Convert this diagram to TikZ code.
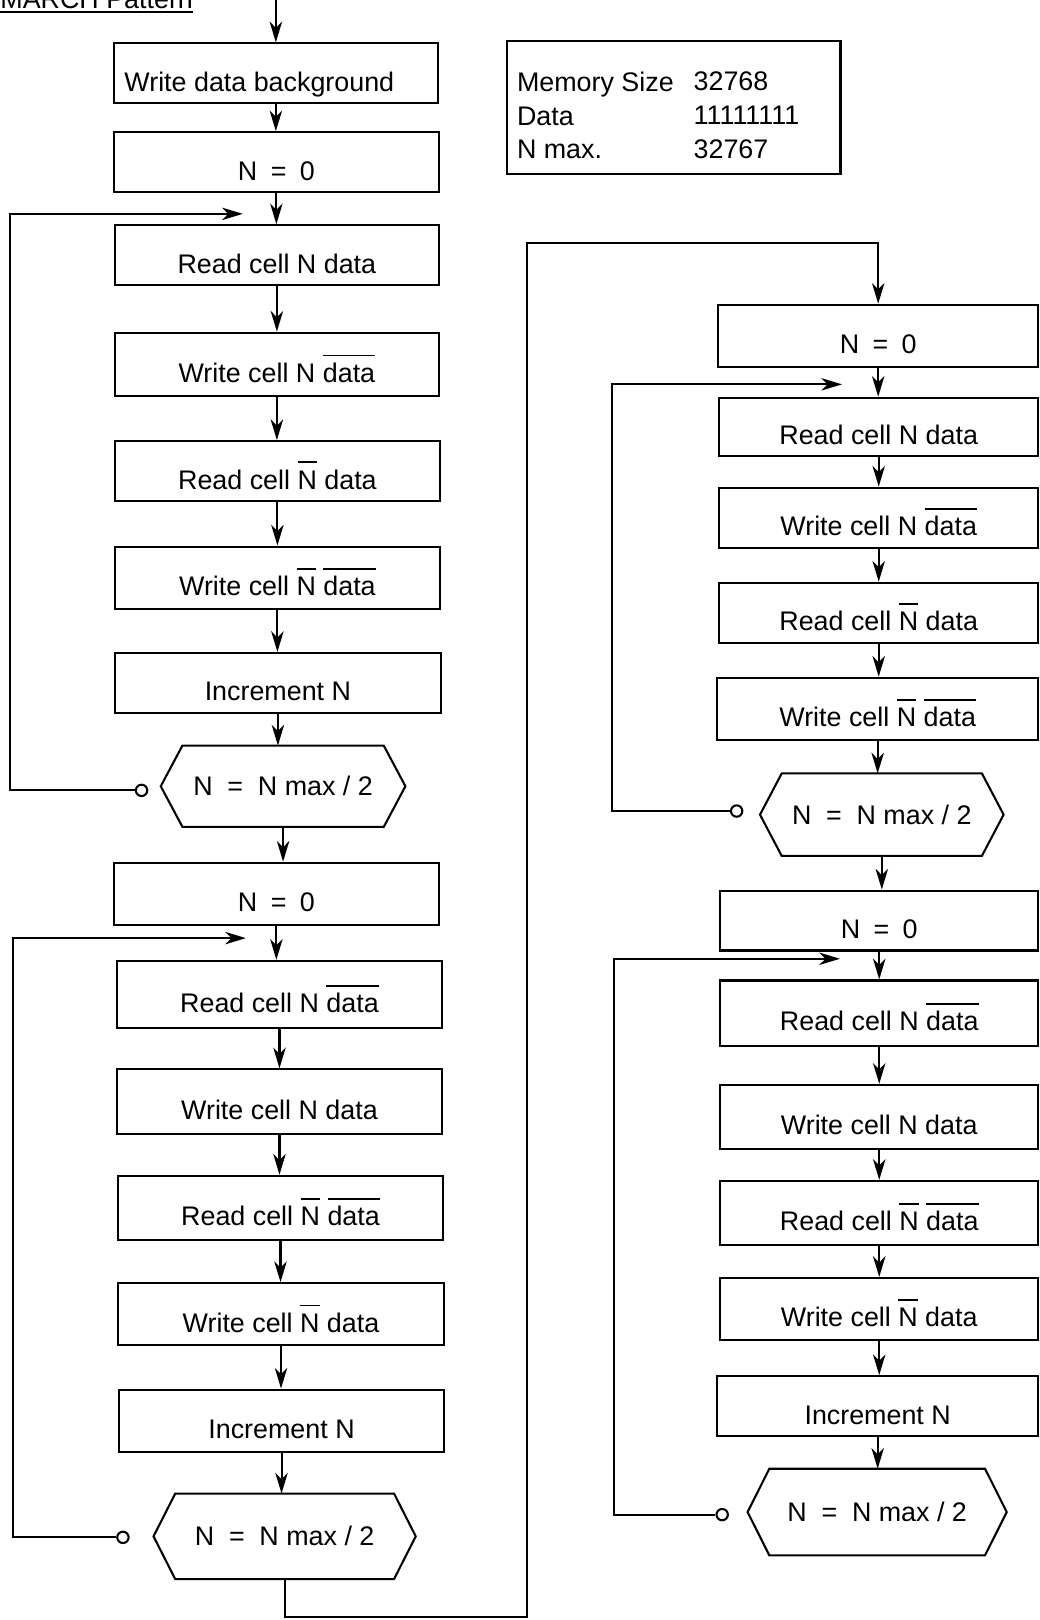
\documentclass[tikz,border=0pt]{standalone}
\usepackage{fontspec}
\setmainfont{Liberation Sans}
\usetikzlibrary{arrows.meta}
\newcommand\ovl[1]{\leavevmode\vbox{\hrule height 0.9pt\kern 3pt\hbox{\vphantom{Nd}#1}}}
\newcommand\bx[6]{\node[box, minimum width={(#4-#2)*0.5pt}, minimum height={(#5-#3)*0.5pt}] (#1) at ({(#2+#4)/2},{(#3+#5)/2}) {#6};}
\newcommand\hx[6]{\node[hexn, minimum width={(#4-#2)*0.5pt}, minimum height={(#5-#3)*0.5pt}] (#1) at ({(#2+#4)/2},{(#3+#5)/2}) {#6};
 \draw[line] (#1.west) -- ([xshift=10.5pt]#1.north west) -- ([xshift=-10.5pt]#1.north east) -- (#1.east) -- ([xshift=-10.5pt]#1.south east) -- ([xshift=10.5pt]#1.south west) -- cycle;}
\newcommand\down[2]{\draw[arr] (#1.south) -- (#1.south |- #2.north);}
\newcommand\Nz{N\hspace{0.5em}=\hspace{0.5em}0}
\newcommand\Nm{N\hspace{0.55em}=\hspace{0.55em}N max / 2}
\tikzset{
 line/.style={line width=1pt},
 arr/.style={line, -{Stealth[length=10pt,width=6pt,inset=3pt]}},
 box/.style={draw, line, rectangle, inner sep=0pt, text height=20pt, text depth=2.7pt},
 hexn/.style={rectangle, inner sep=0pt, text height=12pt, text depth=2.7pt},
 circ/.style={draw, line, circle, inner sep=0pt, minimum size=5.5pt},
}
\begin{document}
\begin{tikzpicture}[x=0.5pt, y=-0.5pt, font=\fontsize{13}{16.25}\selectfont]
\clip (0,0) rectangle (1006,1568);
% title
\node[anchor=base west, inner sep=0pt] (title) at (0,8) {MARCH Pattern};
\draw[line] ([yshift=-1.75pt]title.base west) -- ([yshift=-1.75pt]title.base east);
% info box
\node[draw, line, rectangle, minimum width=161.5pt, minimum height=64pt] (info) at (652,104) {};
\node[anchor=north west, inner sep=0pt, align=left] (infolbl) at (500,69.5) {Memory Size\\Data\\N max.};
\node[anchor=north west, inner sep=0pt, align=left] (infoval) at (671,69.5) {32768\\11111111\\32767};
% left column
\bx{A1}{110}{42}{424}{100}{\hspace*{-16pt}Write data background}
\bx{A2}{110}{128}{425}{186}{\Nz}
\bx{A3}{111}{218}{425}{276}{Read cell N data}
\bx{A4}{111}{322}{425}{383}{Write cell N \ovl{data}}
\bx{A5}{111}{427}{426}{485}{Read cell \ovl{N} data}
\bx{A6}{111}{529}{426}{589}{Write cell \ovl{N} \ovl{data}}
\bx{A7}{111}{632}{427}{690}{Increment N}
\hx{H1}{156}{722}{392}{800}{\Nm}
\bx{A8}{110}{835}{425}{895}{\Nz}
\bx{A9}{113}{930}{428}{995}{Read cell N \ovl{data}}
\bx{A10}{113}{1035}{428}{1098}{Write cell N data}
\bx{A11}{114}{1138}{429}{1200}{Read cell \ovl{N} \ovl{data}}
\bx{A12}{114}{1242}{430}{1302}{Write cell \ovl{N} data}
\bx{A13}{115}{1345}{430}{1405}{Increment N}
\hx{H2}{149}{1446}{402}{1528}{\Nm}
% right column
\bx{B1}{695}{295}{1005}{355}{\Nz}
\bx{B2}{696}{385}{1005}{441}{Read cell N data}
\bx{B3}{696}{472}{1005}{530}{Write cell N \ovl{data}}
\bx{B4}{696}{564}{1005}{622}{Read cell \ovl{N} data}
\bx{B5}{694}{656}{1005}{716}{Write cell \ovl{N} \ovl{data}}
\hx{HR1}{736}{749}{971}{828}{\Nm}
\bx{B6}{697}{862}{1005}{920}{\Nz}
\bx{B7}{697}{949}{1005}{1012}{Read cell N \ovl{data}}
\bx{B8}{697}{1050}{1005}{1112}{Write cell N data}
\bx{B9}{697}{1143}{1005}{1205}{Read cell \ovl{N} \ovl{data}}
\bx{B10}{697}{1237}{1005}{1297}{Write cell \ovl{N} data}
\bx{B11}{694}{1332}{1005}{1390}{Increment N}
\hx{HR2}{724}{1422}{974}{1505}{\Nm}
% vertical flow
\coordinate (start) at (268,-5);
\draw[arr] (A1.north |- start) -- (A1.north);
\down{A1}{A2}\down{A2}{A3}\down{A3}{A4}\down{A4}{A5}\down{A5}{A6}\down{A6}{A7}\down{A7}{H1}
\down{H1}{A8}\down{A8}{A9}\down{A9}{A10}\down{A10}{A11}\down{A11}{A12}\down{A12}{A13}\down{A13}{H2}
\down{B1}{B2}\down{B2}{B3}\down{B3}{B4}\down{B4}{B5}\down{B5}{HR1}
\down{HR1}{B6}\down{B6}{B7}\down{B7}{B8}\down{B8}{B9}\down{B9}{B10}\down{B10}{B11}\down{B11}{HR2}
% connection between columns
\coordinate (bend1) at (510,1565);
\coordinate (topc) at (850,235);
\draw[arr] (H2.south) |- (bend1) |- (topc) -- (B1.north);
% loops
\node[circ] (c1) at (137,765) {};
\coordinate (k1) at (10,207); \coordinate (t1) at (235,207);
\draw[arr] (c1.west) -| (k1) -- (t1);
\node[circ] (c2) at (119,1488) {};
\coordinate (k2) at (13,908); \coordinate (t2) at (238,908);
\draw[arr] (c2.west) -| (k2) -- (t2);
\node[circ] (c3) at (713,785) {};
\coordinate (k3) at (592,372); \coordinate (t3) at (815,372);
\draw[arr] (c3.west) -| (k3) -- (t3);
\node[circ] (c4) at (699,1466) {};
\coordinate (k4) at (594,928); \coordinate (t4) at (813,928);
\draw[arr] (c4.west) -| (k4) -- (t4);
\end{tikzpicture}
\end{document}
